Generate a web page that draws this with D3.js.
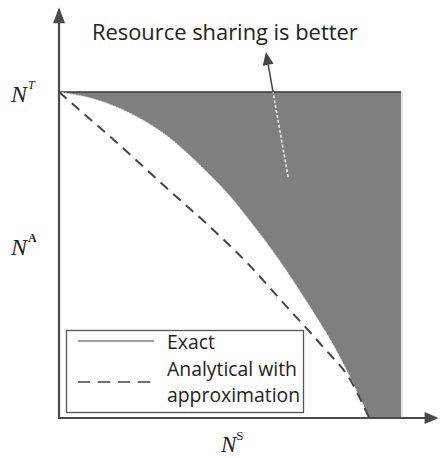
<!DOCTYPE html>
<html>
<head>
<meta charset="utf-8">
<script src="https://cdn.jsdelivr.net/npm/d3@7"></script>
<style>
  html, body { margin: 0; padding: 0; background: #fff; }
  svg { display: block; }
</style>
</head>
<body>
<svg id="chart" width="441" height="458"></svg>
<script>
// ---- data ----
const xExact  = [0, 0.134, 0.231, 0.310, 0.427, 0.500, 0.550, 0.626, 0.713, 0.822, 0.907];
const yExact  = [1, 0.968, 0.922, 0.870, 0.760, 0.680, 0.615, 0.510, 0.375, 0.185, 0];
const xApprox = [0, 0.076, 0.155, 0.231, 0.310, 0.450, 0.550, 0.667, 0.772, 0.851, 0.907];
const yApprox = [1, 0.930, 0.858, 0.786, 0.710, 0.578, 0.476, 0.340, 0.218, 0.118, 0];
const yTickValues = [1, 0.531];
const yTickBase = ["N", "N"];
const yTickSup = ["T", "A"];
const xLabelBase = "N";
const xLabelSup = "S";
const seriesNames = ["Exact", "Analytical with", "approximation"];
const annotationText = "Resource sharing is better";
const annotationFrom = [0.670, 0.739];
const annotationTo = [0.605, 1.123];

// ---- scales ----
const svg = d3.select("#chart");
const x = d3.scaleLinear().domain([0, 1]).range([59, 401]);
const y = d3.scaleLinear().domain([0, 1]).range([418, 92]);

const exactPts = xExact.map((v, i) => [v, yExact[i]]);
const approxPts = xApprox.map((v, i) => [v, yApprox[i]]);
const line = d3.line().x(d => x(d[0])).y(d => y(d[1])).curve(d3.curveMonotoneX);

// shaded region: above exact curve, below N^T, right bounded at x=1
const shadePath = line(exactPts) + "L" + x(1) + "," + y(0) + "L" + x(1) + "," + y(1) + "Z";
svg.append("path").attr("d", shadePath).attr("fill", "#7f7f7f").attr("stroke", "none");

// light right edge
svg.append("line").attr("x1", x(1) + 1).attr("x2", x(1) + 1).attr("y1", y(1)).attr("y2", y(0))
  .attr("stroke", "#dcdcdc").attr("stroke-width", 1.5);

// N^T line
svg.append("line").attr("x1", x(0)).attr("x2", x(1)).attr("y1", y(1)).attr("y2", y(1))
  .attr("stroke", "#3a3a3a").attr("stroke-width", 1.5);

// exact curve (light boundary)
svg.append("path").attr("d", line(exactPts)).attr("fill", "none")
  .attr("stroke", "#e6e6e6").attr("stroke-width", 1).attr("stroke-dasharray", "2,1");

// approximation curve (dashed)
svg.append("path").attr("d", line(approxPts)).attr("fill", "none")
  .attr("stroke", "#444").attr("stroke-width", 2).attr("stroke-dasharray", "10,7");

// ---- axes with arrows ----
const axisColor = "#4a4a4a";
const yTop = y(1.26), xRight = x(1.11);
svg.append("line").attr("x1", x(0)).attr("x2", x(0)).attr("y1", y(0) + 1).attr("y2", yTop + 12)
  .attr("stroke", axisColor).attr("stroke-width", 2.2);
svg.append("line").attr("x1", x(0) - 1).attr("x2", xRight - 10).attr("y1", y(0)).attr("y2", y(0))
  .attr("stroke", axisColor).attr("stroke-width", 2.2);
svg.append("path")
  .attr("d", `M${x(0)},${yTop}L${x(0) - 6},${yTop + 16}L${x(0) + 6},${yTop + 16}Z`)
  .attr("fill", axisColor);
svg.append("path")
  .attr("d", `M${xRight},${y(0)}L${xRight - 14},${y(0) - 6}L${xRight - 14},${y(0) + 6}Z`)
  .attr("fill", axisColor);

// ---- tick labels (math style) ----
const mathFont = "'Liberation Serif', 'DejaVu Serif', serif";
yTickValues.forEach((v, i) => {
  const t = svg.append("text").attr("x", 11).attr("y", y(v) + 10)
    .attr("font-family", mathFont).attr("fill", "#222");
  t.append("tspan").attr("font-style", "italic").attr("font-size", 24).text(yTickBase[i]);
  t.append("tspan").attr("font-size", 12).attr("dy", -13).attr("dx", 1)
    .attr("font-style", yTickSup[i] === "T" ? "italic" : "normal")
    .attr("font-weight", yTickSup[i] === "A" ? "bold" : "normal").text(yTickSup[i]);
});
{
  const t = svg.append("text").attr("x", 221).attr("y", 452)
    .attr("font-family", mathFont).attr("fill", "#222");
  t.append("tspan").attr("font-style", "italic").attr("font-size", 23).text(xLabelBase);
  t.append("tspan").attr("font-size", 13).attr("dy", -12).text(xLabelSup);
}

// helper: choose a font size so a text spans a target width
function fitText(sel, target, start) {
  let fs = start;
  sel.attr("font-size", fs);
  const w = sel.node().getComputedTextLength();
  if (w > 0) { fs = fs * target / w; sel.attr("font-size", fs); }
  return fs;
}

// ---- annotation ----
const uiFont = "'Open Sans', Lato, sans-serif";
const title = svg.append("text").attr("x", 92).attr("y", 40).attr("font-family", uiFont)
  .attr("fill", "#222").text(annotationText);
fitText(title, 266, 20);

const ax0 = x(annotationFrom[0]), ay0 = y(annotationFrom[1]);
const ax1 = x(annotationTo[0]), ay1 = y(annotationTo[1]);
const tCross = (ay0 - y(1)) / (ay0 - ay1);
const cx = ax0 + (ax1 - ax0) * tCross, cy = y(1);
svg.append("line").attr("x1", ax0).attr("y1", ay0).attr("x2", cx).attr("y2", cy)
  .attr("stroke", "#f2f2f2").attr("stroke-width", 1.5).attr("stroke-dasharray", "3,2");
const ang = Math.atan2(ay1 - ay0, ax1 - ax0);
const headLen = 13, headW = 5.5;
const bx = ax1 - headLen * Math.cos(ang), by = ay1 - headLen * Math.sin(ang);
svg.append("line").attr("x1", cx).attr("y1", cy).attr("x2", bx).attr("y2", by)
  .attr("stroke", "#444").attr("stroke-width", 1.5);
const px = -Math.sin(ang), py = Math.cos(ang);
svg.append("path")
  .attr("d", `M${ax1},${ay1}L${bx + px * headW},${by + py * headW}L${bx - px * headW},${by - py * headW}Z`)
  .attr("fill", "#444");

// ---- legend ----
const lg = svg.append("g");
lg.append("rect").attr("x", 66.5).attr("y", 330.5).attr("width", 237).attr("height", 82)
  .attr("fill", "#fff").attr("stroke", "#555").attr("stroke-width", 1.3);
lg.append("line").attr("x1", 78).attr("x2", 154).attr("y1", 341).attr("y2", 341)
  .attr("stroke", "#444").attr("stroke-width", 1.2);
lg.append("line").attr("x1", 78).attr("x2", 154).attr("y1", 382).attr("y2", 382)
  .attr("stroke", "#444").attr("stroke-width", 1.5).attr("stroke-dasharray", "12,8");
const legY = [349, 376, 402];
const legTexts = seriesNames.map((s, i) =>
  lg.append("text").attr("x", 167).attr("y", legY[i]).attr("font-family", uiFont)
    .attr("fill", "#222").text(s));
const legFs = fitText(legTexts[1], 130, 17);
legTexts.forEach(t => t.attr("font-size", legFs));
</script>
</body>
</html>
